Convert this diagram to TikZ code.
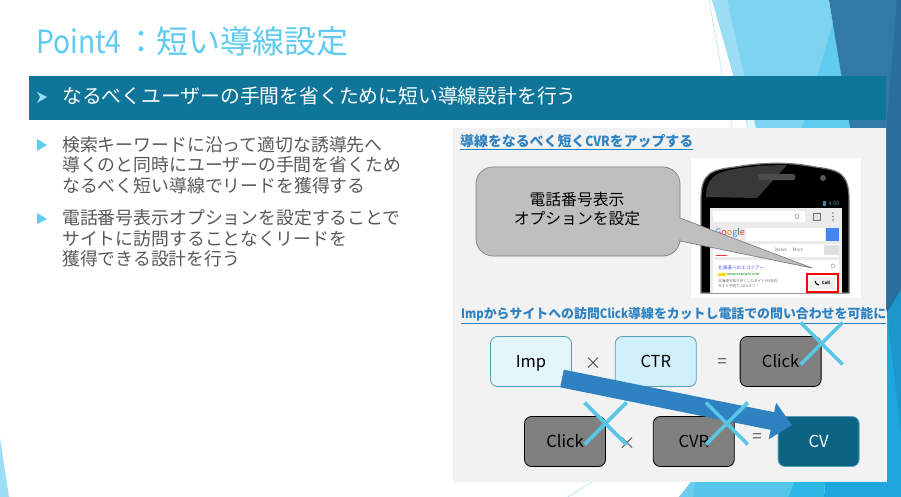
\documentclass[tikz,border=0pt]{standalone}
\usepackage{xcolor}
\usepackage{fontspec}
\setmainfont{Noto Sans CJK JP}
\newfontfamily\narrowfont[FakeStretch=0.88]{Noto Sans CJK JP}
\usetikzlibrary{calc,shapes,arrows,positioning,arrows.meta}

\definecolor{titleblue}{HTML}{5FCBEF}
\definecolor{barblue}{HTML}{0F7699}
\definecolor{bodygray}{HTML}{595959}
\definecolor{panelgray}{HTML}{F2F2F2}
\definecolor{linkblue}{HTML}{2E82C2}
\definecolor{crossblue}{HTML}{5AC6E6}
\definecolor{facetpale}{HTML}{9ADDF4}
\definecolor{facetlight}{HTML}{7DD3F0}
\definecolor{facetdark}{HTML}{3278A8}
\definecolor{facetdeep}{HTML}{2A6D9F}
\definecolor{facetsky}{HTML}{1FA6DC}
\definecolor{facetteal}{HTML}{1B97C9}
\definecolor{facetbase}{HTML}{55C5EA}
\definecolor{facetedge}{HTML}{6DCDEE}
\definecolor{facetmid}{HTML}{2CB8E6}
\definecolor{googleblue}{HTML}{4285F4}

\tikzset{
    boxnode/.style={draw,rounded corners=7pt,minimum width=81pt,minimum height=50pt,inner sep=0pt,line width=0.8pt,text height=11.7pt,text depth=0pt,font=\fontsize{16.5}{18}\selectfont},
    lightbox/.style={boxnode,draw=barblue!70!white,text=black},
    deadbox/.style={boxnode,draw=black,fill=black!50,text=black},
    opnode/.style={inner sep=0pt,text=bodygray,font=\fontsize{17}{18}\selectfont},
    bodytext/.style={anchor=west,inner sep=0pt,align=left,text=bodygray,font=\fontsize{17.85}{20.7}\selectfont},
    panelhead/.style={anchor=west,inner sep=0pt,text=linkblue,font=\bfseries},
    crossline/.style={draw=crossblue,line width=3.6pt},
    tinytext/.style={inner sep=0pt,font=\fontsize{3.6}{4}\selectfont},
}

\begin{document}
\begin{tikzpicture}[x=1pt,y=-1pt]
        \useasboundingbox (0,0) rectangle (901,497);

        %background
        \fill[white] (0,0) rectangle (901,497);
        \fill[facetpale] (0,438) -- (9,497) -- (0,497) -- cycle;
        \fill[facetpale] (712,0) -- (727,0) -- (757,128) -- (748,128) -- cycle;
        \fill[facetpale!30] (744,100) -- (752,100) -- (757,128) -- (748,128) -- cycle;
        \fill[facetlight] (727,0) -- (829,0) -- (850,128) -- (756,128) -- cycle;
        \fill[titleblue] (833,23) -- (850,128) -- (802,128) -- cycle;
        \fill[facetdark] (829,0) -- (901,0) -- (901,300) -- (887,313) -- (850,128) -- cycle;
        \fill[facetdeep] (897,0) -- (901,0) -- (901,290) -- (887,313) -- (887,120) -- cycle;
        \fill[facetsky] (887,313) -- (901,290) -- (901,497) -- (824,497) -- (825,482) -- (887,482) -- cycle;
        \fill[facetteal] (887,313) -- (901,290) -- (901,433) -- cycle;
        \fill[facetbase] (679,497) -- (691,482) -- (794,482) -- (788,497) -- cycle;
        \fill[facetedge] (679,497) -- (691,482) -- (695,482) -- (693,497) -- cycle;
        \fill[facetmid] (794,482) -- (825,482) -- (824,497) -- (788,497) -- cycle;
        \draw[facetpale] (709,0) -- (732,128);
        \draw[facetpale] (568,497) -- (592,482);

        %title and bar
        \node[anchor=west,inner sep=0pt,text=titleblue,font=\fontsize{32}{38}\selectfont] (title) at (36,41) {{\narrowfont Point4}\kern 4pt：\kern-1.5pt 短い導線設定};
        \fill[barblue] (29,76) rectangle (886,120);
        \fill[facetpale] (37,92) -- (47,97) -- (37,103) -- (40,97) -- cycle;
        \node[anchor=west,inner sep=0pt,text=white,font=\fontsize{19.8}{24}\selectfont] (bartext) at (62,96) {なるべくユーザーの手間を省くために短い導線設計を行う};

        %body
        \fill[titleblue] (37,139) -- (47,145) -- (37,151) -- cycle;
        \fill[titleblue] (37,213) -- (47,219) -- (37,224) -- cycle;
        \node[bodytext] (bodya) at (62,165) {検索キーワードに沿って適切な誘導先へ\\導くのと同時にユーザーの手間を省くため\\なるべく短い導線でリードを獲得する};
        \node[bodytext] (bodyb) at (62,238.5) {電話番号表示オプションを設定することで\\サイトに訪問することなくリードを\\獲得できる設計を行う};

        %panel
        \fill[panelgray] (453,128) rectangle (886,482);
        \node[panelhead,font=\fontsize{13.9}{15}\selectfont\bfseries] (heada) at (460,142.5) {\underline{導線をなるべく短く{\narrowfont CVR}をアップする}};
        \node[panelhead,font=\fontsize{12.9}{15}\selectfont\bfseries] (headb) at (461,315.5) {\underline{{\narrowfont Imp}からサイトへの訪問{\narrowfont Click}導線をカットし電話での問い合わせを可能に}};

        %phone
        \fill[white] (691,158) rectangle (861,298);
        \draw[fill=black,draw=black!55,line width=1.2pt] (701,293) -- (701,200) .. controls (701,172) and (712,170) .. (735,167) .. controls (765,162) and (790,162) .. (815,167) .. controls (838,170) and (849,172) .. (849,200) -- (849,293) -- cycle;
        \fill[black!78] (706,197) .. controls (706,178) and (716,172) .. (735,169) .. controls (750,166) and (775,165) .. (787,165) -- (757,198) -- cycle;
        \fill[black!70,rounded corners=2pt] (758,174) rectangle (795,180);
        \fill[black!65] (823,178) circle (3pt);
        \fill[black] (710,198) rectangle (842,208);
        \fill[black!8] (710,208) rectangle (842,293);
        \fill[white] (713,211) rectangle (805,222);
        \draw[black!55] (797,216.5) circle (2pt);
        \draw[black!55,fill=black!10] (813,213) rectangle (820,220);
        \fill[black!55] (833,213) circle (0.8pt) (833,216.5) circle (0.8pt) (833,220) circle (0.8pt);
        \fill[white] (746,228) rectangle (825,241);
        \fill[googleblue] (826,228) rectangle (839,241);
        \fill[white] (713,244) rectangle (839,257);
        \fill[black!12] (824,245) rectangle (839,255);
        \fill[red!80] (716,255) rectangle (727,256);
        \fill[white] (713,260) rectangle (839,293);
        \fill[crossblue!70!black] (823,201) rectangle (826,206);
        \node[inner sep=0pt,text=crossblue!70!black,font=\fontsize{5.5}{6}\selectfont] (clock) at (834,204) {4:00};
        \node[anchor=west,inner sep=0pt,font=\fontsize{9}{10}\selectfont] (google) at (715,233) {\textcolor{googleblue}{G}\textcolor{red!80}{o}\textcolor{orange}{o}\textcolor{googleblue}{g}\textcolor{green!60!black}{l}\textcolor{red!80}{e}};
        \node[inner sep=0pt,text=black!50,font=\fontsize{4.6}{5}\selectfont] (news) at (781,250) {News};
        \node[inner sep=0pt,text=black!50,font=\fontsize{4.6}{5}\selectfont] (more) at (798,250) {More};
        \node[tinytext,anchor=west,text=blue!70,font=\fontsize{4.6}{5}\selectfont] (adtitle) at (718,268) {北海道へのエコツアー};
        \fill[yellow!80!orange] (718,272.5) rectangle (726,276);
        \node[tinytext,anchor=west,text=green!50!black] (adurl) at (727,274) {www.example.com};
        \node[tinytext,anchor=west,text=black!60] (adline) at (718,281.5) {北海道を知り尽くしたガイドが2名内};
        \node[tinytext,anchor=west,text=black!60] (adlinb) at (718,286) {今すぐ予約で-10\%オフ！};
        \draw[black!45] (833,266) circle (2pt);
        \draw[red,line width=1.2pt,fill=white] (807,274) rectangle (838,292);
        \fill[black!6] (810,277) rectangle (835,289);
        \node[inner sep=0pt,text=black,font=\fontsize{4.2}{5}\selectfont\bfseries] (call) at (826,283) {Call};
        \draw[black,line width=1pt] (815,281) to [bend right=40] (819,285);

        %callout
        \draw[fill=black!25,draw=black!50,line width=0.7pt] (578,167) [rounded corners=17pt] -- (680,167) [sharp corners] -- (680,218) -- (812,268) -- (680,241) [rounded corners=17pt] -- (680,256) -- (476,256) -- (476,167) -- cycle;
        \node[align=center,inner sep=0pt,text=black,font=\fontsize{15.8}{19.5}\selectfont] (calltext) at (577,209) {電話番号表示\\オプションを設定};

        %boxes
        \node[lightbox,fill=titleblue!18] (imp) at (531,361.5) {Imp};
        \node[lightbox,right=43pt of imp,fill=titleblue!30] (ctr) {CTR};
        \node[deadbox,right=43pt of ctr] (clicka) {Click};
        \node[deadbox] (clickb) at (565,441.5) {Click};
        \node[deadbox,right=47pt of clickb] (cvr) {CVR};
        \node[boxnode,right=43pt of cvr,draw=barblue!70!white,fill=barblue!85!black,text=white] (cv) {CV};
        \node[opnode] (timesa) at (593,364) {×};
        \node[opnode] (equala) at (722,363) {=};
        \node[opnode] (timesb) at (627,444) {×};
        \node[opnode] (equalb) at (757,438) {=};

        %big arrow
        \coordinate (impout) at (562,378.5);
        \coordinate (cvin) at (792,425);
        \draw[linkblue,line width=18pt,-{Triangle[length=20pt,width=36pt]}] (impout) -- (cvin);

        %crosses
        \foreach \boxname/\dx in {clicka/41,clickb/40.5,cvr/33}{
            \coordinate (crossmid) at ($(\boxname.center)+(\dx,-18)$);
            \draw[crossline] (crossmid) +(-21,21) -- +(21,-21) (crossmid) +(-21,-21) -- +(21,21);
        }
\end{tikzpicture}
\end{document}
